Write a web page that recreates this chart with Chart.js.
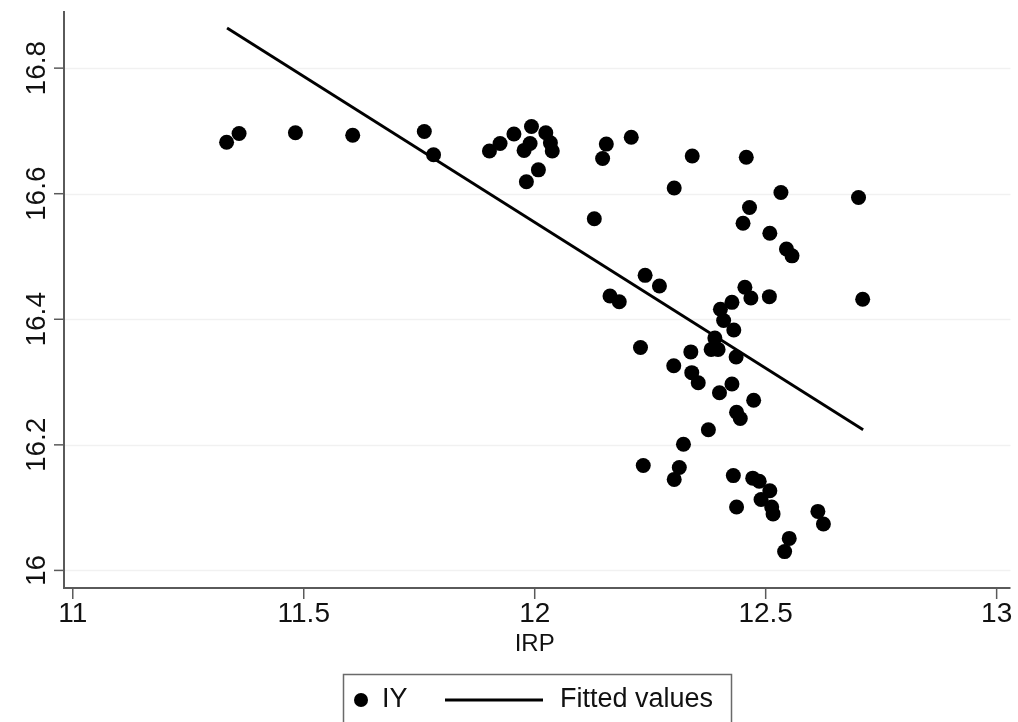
<!DOCTYPE html>
<html><head><meta charset="utf-8">
<script src="https://cdn.jsdelivr.net/npm/chart.js@4/dist/chart.umd.min.js"></script>
<style>html,body{margin:0;padding:0;background:#fff;overflow:hidden}#wrap{width:1018px;height:722px}</style>
</head><body><div id="wrap"><canvas id="c" width="1018" height="722"></canvas></div>
<script>
const irp = [11.333,11.360,11.482,11.606,11.761,11.781,11.902,11.925,11.955,11.993,
12.024,12.034,12.038,11.990,11.977,12.008,11.982,12.155,12.147,12.209,
12.341,12.458,12.302,12.533,12.701,12.465,12.451,12.509,12.545,12.557,
12.129,12.239,12.270,12.163,12.183,12.455,12.468,12.508,12.710,12.427,
12.402,12.409,12.431,12.390,12.382,12.397,12.436,12.229,12.338,12.301,
12.340,12.354,12.427,12.400,12.474,12.437,12.445,12.376,12.322,12.235,
12.313,12.302,12.430,12.472,12.486,12.509,12.490,12.437,12.513,12.516,
12.613,12.625,12.551,12.541];
const iy = [16.682,16.696,16.697,16.693,16.699,16.662,16.668,16.680,16.695,16.707,
16.697,16.681,16.668,16.680,16.669,16.638,16.619,16.679,16.656,16.690,
16.660,16.658,16.609,16.602,16.594,16.578,16.553,16.537,16.512,16.501,
16.560,16.470,16.453,16.437,16.428,16.451,16.434,16.436,16.432,16.427,
16.416,16.398,16.383,16.370,16.352,16.352,16.340,16.355,16.348,16.326,
16.315,16.299,16.297,16.283,16.271,16.252,16.242,16.224,16.201,16.167,
16.164,16.145,16.151,16.147,16.142,16.127,16.113,16.101,16.101,16.090,
16.094,16.074,16.051,16.030];
const fittedX = [11.334, 12.711];
const fittedY = [16.864, 16.224];
const xTickValues = [11, 11.5, 12, 12.5, 13];
const xTickLabels = ['11', '11.5', '12', '12.5', '13'];
const yTickValues = [16, 16.2, 16.4, 16.6, 16.8];
const yTickLabels = ['16', '16.2', '16.4', '16.6', '16.8'];
const xTitle = 'IRP';
const seriesNames = ['IY', 'Fitted values'];

const FONT = '"Liberation Sans", Arial, sans-serif';
const axisPlugin = {
  id: 'stataAxes',
  beforeDatasetsDraw(chart) {
    const {ctx, chartArea: a, scales: {x, y}} = chart;
    ctx.save();
    ctx.strokeStyle = '#f1f1f1';
    ctx.lineWidth = 1.5;
    yTickValues.forEach(v => {
      const py = Math.round(y.getPixelForValue(v)) + 0.5;
      ctx.beginPath(); ctx.moveTo(a.left, py); ctx.lineTo(a.right, py); ctx.stroke();
    });
    ctx.restore();
  },
  afterDraw(chart) {
    const {ctx, chartArea: a, scales: {x, y}} = chart;
    ctx.save();
    ctx.strokeStyle = '#5a5a5a';
    ctx.lineWidth = 2;
    ctx.beginPath(); ctx.moveTo(a.left, a.top); ctx.lineTo(a.left, a.bottom); ctx.lineTo(a.right, a.bottom); ctx.stroke();
    ctx.lineWidth = 1.5;
    ctx.fillStyle = '#111';
    ctx.font = '28px ' + FONT;
    yTickValues.forEach((v, i) => {
      const py = y.getPixelForValue(v);
      ctx.beginPath(); ctx.moveTo(a.left - 10, py); ctx.lineTo(a.left, py); ctx.stroke();
      ctx.save(); ctx.translate(37, py); ctx.rotate(-Math.PI / 2);
      ctx.textAlign = 'center'; ctx.textBaseline = 'middle';
      ctx.fillText(yTickLabels[i], 0, 0);
      ctx.restore();
    });
    ctx.textAlign = 'center'; ctx.textBaseline = 'middle';
    xTickValues.forEach((v, i) => {
      const px = x.getPixelForValue(v);
      ctx.beginPath(); ctx.moveTo(px, a.bottom); ctx.lineTo(px, a.bottom + 11); ctx.stroke();
      ctx.fillText(xTickLabels[i], px, 614);
    });
    ctx.font = '24px ' + FONT;
    ctx.fillText(xTitle, (x.getPixelForValue(12)), 644);
    // legend
    ctx.strokeStyle = '#6a6a6a'; ctx.lineWidth = 1.5;
    ctx.strokeRect(343.5, 674.5, 388, 60);
    const ds = chart.data.datasets;
    ctx.fillStyle = ds[0].backgroundColor;
    ctx.beginPath(); ctx.arc(361, 700, 7, 0, Math.PI * 2); ctx.fill();
    ctx.fillStyle = '#111';
    ctx.font = '27px ' + FONT;
    ctx.textAlign = 'left';
    ctx.fillText(ds[0].label, 382, 700);
    ctx.strokeStyle = ds[1].borderColor; ctx.lineWidth = ds[1].borderWidth;
    ctx.beginPath(); ctx.moveTo(445, 700); ctx.lineTo(543, 700); ctx.stroke();
    ctx.fillText(ds[1].label, 560, 700);
    ctx.restore();
  }
};

new Chart(document.getElementById('c'), {
  type: 'scatter',
  data: {
    datasets: [
      {label: seriesNames[0], data: irp.map((v, i) => ({x: v, y: iy[i]})),
       backgroundColor: '#000', borderColor: '#000', pointRadius: 7.5, pointBorderWidth: 0, order: 2},
      {label: seriesNames[1], data: fittedX.map((v, i) => ({x: v, y: fittedY[i]})),
       showLine: true, borderColor: '#000', borderWidth: 2.8, pointRadius: 0, fill: false, order: 1}
    ]
  },
  options: {
    responsive: false, animation: false, devicePixelRatio: 1,
    layout: {padding: {left: 64, top: 11, right: 2, bottom: 134}},
    plugins: {legend: {display: false}, tooltip: {enabled: false}},
    scales: {
      x: {type: 'linear', display: false, min: 10.981, max: 13.030},
      y: {type: 'linear', display: false, min: 15.972, max: 16.891}
    }
  },
  plugins: [axisPlugin]
});
</script></body></html>
